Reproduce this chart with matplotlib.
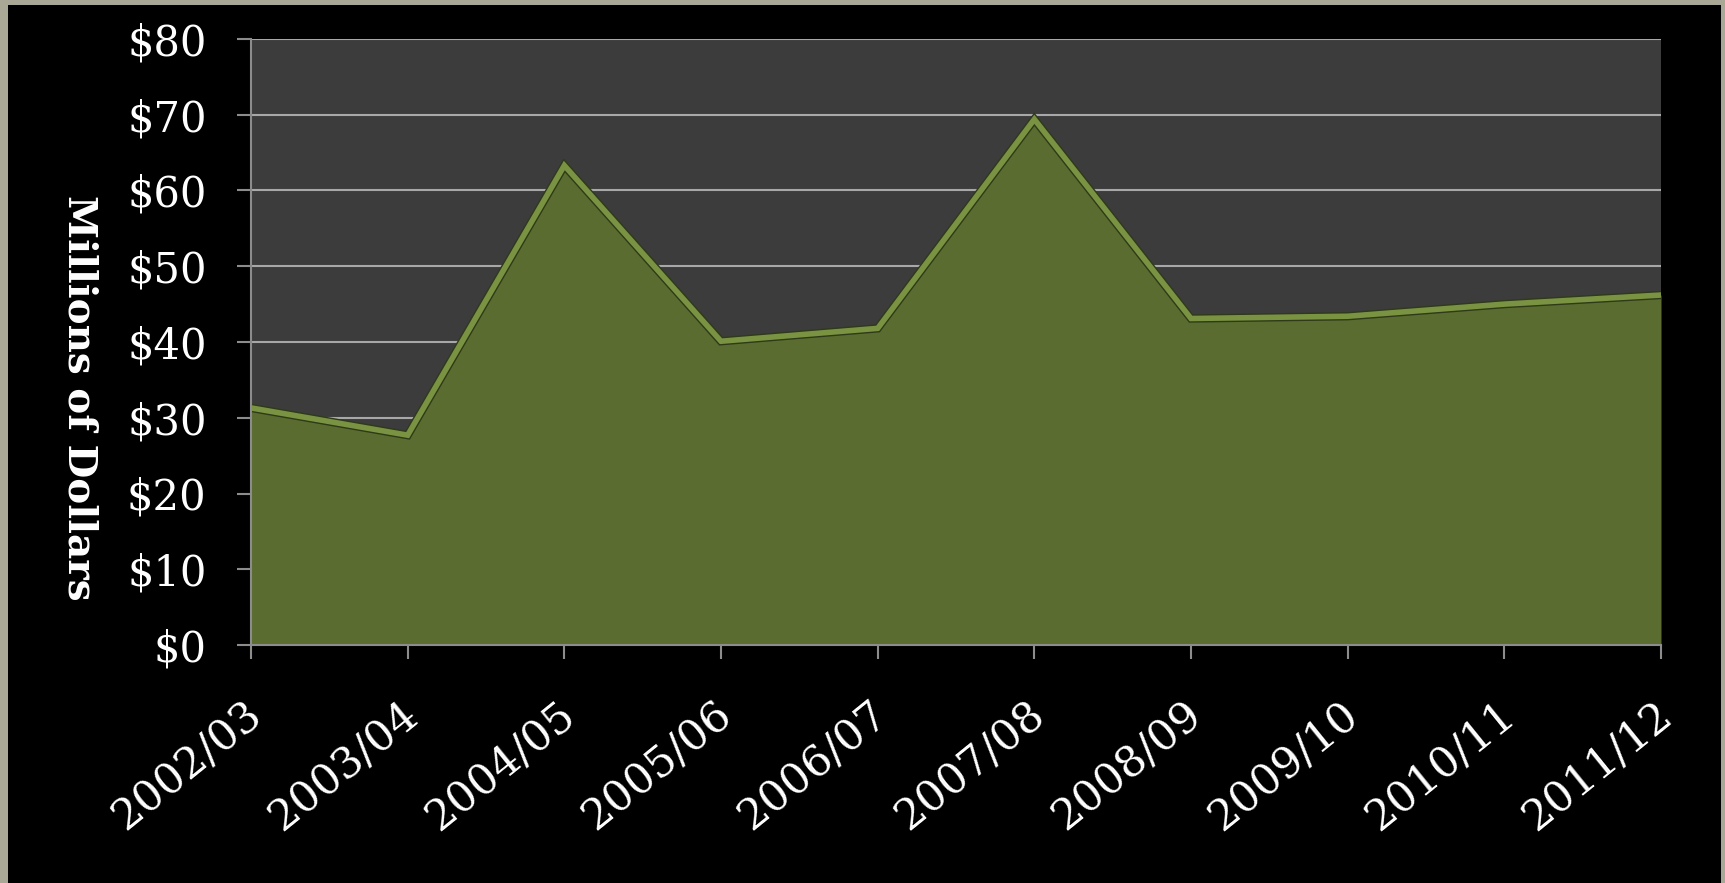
import matplotlib
matplotlib.use("Agg")
import matplotlib.pyplot as plt
from matplotlib.patches import Rectangle
from matplotlib.transforms import ScaledTranslation
import matplotlib.patheffects as pe

years = ["2002/03", "2003/04", "2004/05", "2005/06", "2006/07",
         "2007/08", "2008/09", "2009/10", "2010/11", "2011/12"]
values = [31.3, 27.7, 63.3, 40.1, 41.8, 69.4, 43.1, 43.4, 45.0, 46.2]
yticks = [0, 10, 20, 30, 40, 50, 60, 70, 80]
ytick_labels = ["$0", "$10", "$20", "$30", "$40", "$50", "$60", "$70", "$80"]

plt.rcParams['font.family'] = ['DejaVu Serif']

fig = plt.figure(figsize=(17.25, 8.83), dpi=100, facecolor="black")
ax = fig.add_axes([251/1725, 1 - 645/883, (1661-251)/1725, (645-39)/883])
ax.set_facecolor("#3c3c3c")

x = list(range(len(years)))
ax.fill_between(x, values, 0, color="#5a6c2f", zorder=2, linewidth=0)
ax.plot(x, values, color="#7a9343", linewidth=4, zorder=3,
        solid_joinstyle="miter",
        path_effects=[pe.Stroke(linewidth=6, foreground="#2e3a18"), pe.Normal()])

ax.set_xlim(0, len(years) - 1)
ax.set_ylim(0, 80)
ax.set_yticks(yticks)
ax.set_yticklabels(ytick_labels)
ax.set_xticks(x)
ax.set_xticklabels(years, rotation=39, ha="right", va="top", rotation_mode="anchor")

ax.grid(axis="y", color="#a8a8a8", linewidth=1.5, zorder=1)
ax.set_axisbelow(True)
for s in ["top", "right"]:
    ax.spines[s].set_visible(False)
for s in ["left", "bottom"]:
    ax.spines[s].set_color("#8c8c8c")
    ax.spines[s].set_linewidth(1.5)
    ax.spines[s].set_zorder(5)

ax.tick_params(axis="y", colors="#8c8c8c", length=10, width=1.5, pad=22,
               labelcolor="white", labelsize=30)
ax.tick_params(axis="x", colors="#8c8c8c", length=10, width=1.5, pad=25,
               labelcolor="white", labelsize=31)

shift = ScaledTranslation(-8/100, 0, fig.dpi_scale_trans)
for lab in ax.get_xticklabels():
    lab.set_transform(lab.get_transform() + shift)

ax.set_ylabel("Millions of Dollars", rotation=270, color="white",
              fontsize=28, fontweight="bold", va="center")
ax.yaxis.set_label_coords(-(251-79)/(1661-251), (645-398)/(645-39))

border = "#a9a897"
fig.patches.append(Rectangle((0, 0), 8/1725, 1, transform=fig.transFigure,
                             facecolor=border, edgecolor="none", zorder=10))
fig.patches.append(Rectangle((0, 1 - 5/883), 1, 5/883, transform=fig.transFigure,
                             facecolor=border, edgecolor="none", zorder=10))
fig.patches.append(Rectangle((1 - 4/1725, 0), 4/1725, 1, transform=fig.transFigure,
                             facecolor=border, edgecolor="none", zorder=10))

fig.savefig("out.png", dpi=100, facecolor="black")
